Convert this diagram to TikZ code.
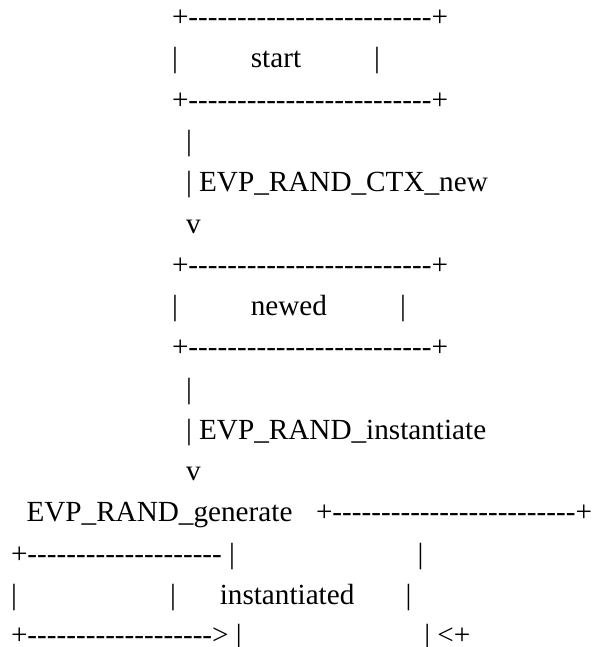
\documentclass[tikz,border=0pt]{standalone}
\usepackage{fontspec}
\setmainfont{Liberation Serif}[Ligatures=TeXOff]
\ExplSyntaxOn
\cs_new:Npn \rep #1#2 { \prg_replicate:nn {#1} {#2} }
\ExplSyntaxOff
\newcommand\sps[1]{\hspace*{#1\fontdimen2\font}}
\begin{document}
\begin{tikzpicture}[x=1pt,y=-1pt,
  row/.style={anchor=base west,inner sep=0pt,outer sep=0pt,
    font=\fontsize{29.2}{35}\selectfont}]
\useasboundingbox (0,0) rectangle (592,647);
% box "start"
\node[row] (r1) at (172,26.75) {+\rep{25}{-}+};
\node[row] (r2) at (172,68) {|\sps{10}start\sps{10}|};
\node[row] (r3) at (172,109.25) {+\rep{25}{-}+};
% connector 1
\node[row] (r4) at (186,150.5) {|};
\node[row] (r5) at (186,191.75) {|\sps{1}EVP\_RAND\_CTX\_new};
\node[row] (r6) at (186,233) {v};
% box "newed"
\node[row] (r7) at (172,274.25) {+\rep{25}{-}+};
\node[row] (r8) at (172,315.5) {|\sps{10}newed\sps{10}|};
\node[row] (r9) at (172,356.75) {+\rep{25}{-}+};
% connector 2
\node[row] (r10) at (186,398) {|};
\node[row] (r11) at (186,439.25) {|\sps{1}EVP\_RAND\_instantiate};
\node[row] (r12) at (186,480.5) {v};
% box "instantiated" with loop
\node[row] (r13a) at (26.5,521.75) {EVP\_RAND\_generate};
\node[row] (r13b) at (316,521.75) {+\rep{25}{-}+};
\node[row] (r14) at (11,563) {+\rep{20}{-}\sps{1}|\sps{25}|};
\node[row] (r15) at (11,604.25) {|\sps{21}|\sps{6}instantiated\sps{7}|};
\node[row] (r16) at (11,644.5) {+\rep{19}{-}>\sps{1}|\sps{25}|\sps{1}<+};
\end{tikzpicture}
\end{document}
